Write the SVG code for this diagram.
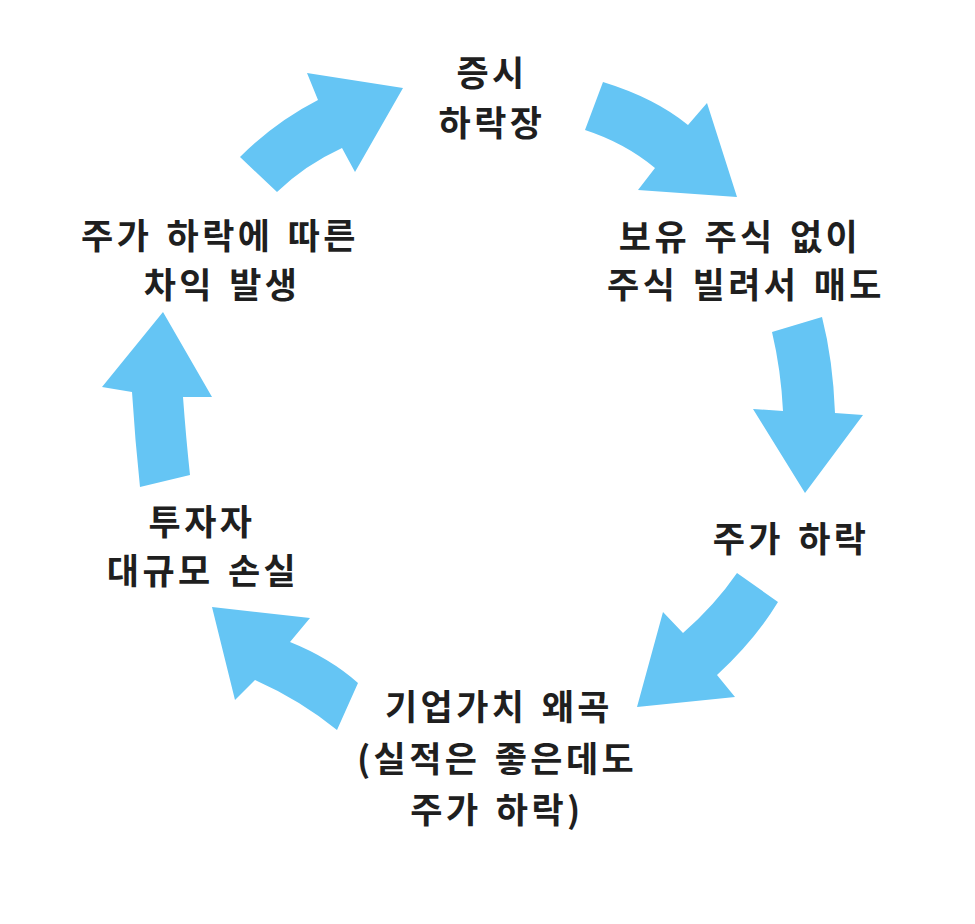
<svg xmlns="http://www.w3.org/2000/svg" width="975" height="924" viewBox="0 0 975 924">
<style>
.arrow{fill:#65c5f4;stroke:none}
.lbl{font-family:"Noto Sans CJK KR","Noto Sans CJK SC",sans-serif;font-weight:700;font-size:35px;fill:#1f1f1f;text-anchor:middle;letter-spacing:3.4px;word-spacing:3px}
</style>
<rect width="975" height="924" fill="#ffffff"/>
<g id="connectors">
<path class="arrow" d="M240,157 Q275,122 318,100 L307,73 L403,88 L355,172 L342,148 Q305,165 277,192 Z"/>
<path class="arrow" d="M603,82 Q655,98 688,125 L707,103 L737,197 L638,190 L655,168 Q625,143 585,130 Z"/>
<path class="arrow" d="M772,332 L822,317 Q833,360 835,413 L863,415 L805,493 L753,409 L783,411 Q781,370 772,332 Z"/>
<path class="arrow" d="M737,573 L778,602 Q755,640 717,675 L735,697 L637,707 L663,612 L683,633 Q715,605 737,573 Z"/>
<path class="arrow" d="M212,607 L310,618 L290,642 Q330,658 358,683 L337,730 Q300,700 255,680 L235,700 Z"/>
<path class="arrow" d="M163,312 L212,397 L183,397 Q186,438 190,475 L140,487 Q135,440 132,392 L102,387 Z"/>
</g>
<g id="node-top">
<text class="lbl" x="492" y="86">증시</text>
<text class="lbl" x="492" y="136">하락장</text>
</g>
<g id="node-upper-right">
<text class="lbl" x="740" y="250">보유 주식 없이</text>
<text class="lbl" x="746" y="298">주식 빌려서 매도</text>
</g>
<g id="node-right">
<text class="lbl" x="791" y="552">주가 하락</text>
</g>
<g id="node-bottom">
<text class="lbl" x="499" y="720">기업가치 왜곡</text>
<text class="lbl" x="497" y="772">(실적은 좋은데도</text>
<text class="lbl" x="497" y="823">주가 하락)</text>
</g>
<g id="node-lower-left">
<text class="lbl" x="202" y="535">투자자</text>
<text class="lbl" x="203" y="584">대규모 손실</text>
</g>
<g id="node-upper-left">
<text class="lbl" x="220" y="249">주가 하락에 따른</text>
<text class="lbl" x="222" y="298">차익 발생</text>
</g>
</svg>
